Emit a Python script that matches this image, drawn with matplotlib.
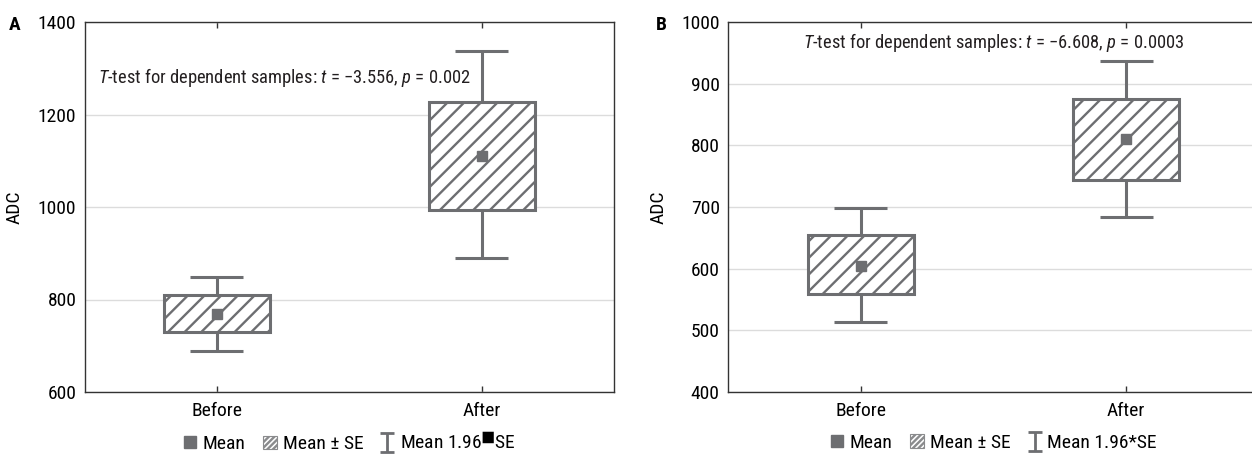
import numpy as np
import matplotlib
matplotlib.use("Agg")
import matplotlib.pyplot as plt
from matplotlib.lines import Line2D
from matplotlib.patches import Patch
from matplotlib import font_manager

available = {f.name for f in font_manager.fontManager.ttflist}
condensed = [n for n in ['Roboto Condensed', 'Open Sans Condensed',
                         'Liberation Sans Narrow', 'Noto Sans Condensed']
             if n in available]
if condensed:
    MAIN = condensed[0]
    FS = 14
    FS_TXT = 13.3
else:
    MAIN = 'Liberation Sans'
    FS = 12
    FS_TXT = 11.6

FONT = [MAIN, 'DejaVu Sans']
plt.rcParams['font.family'] = FONT
plt.rcParams['mathtext.fontset'] = 'custom'
plt.rcParams['mathtext.rm'] = MAIN
plt.rcParams['mathtext.it'] = MAIN + ':italic'
plt.rcParams['hatch.linewidth'] = 1.7

# ---------------- data ----------------
categories = ["Before", "After"]

# Panel A
a_mean = [769, 1110]
a_se_low = [730, 993]
a_se_high = [810, 1226]
a_ci_low = [689, 889]
a_ci_high = [849, 1337]
a_yticks = [600, 800, 1000, 1200, 1400]
a_text = r"$T$-test for dependent samples: $t$ = −3.556, $p$ = 0.002"
a_legend = ["Mean", "Mean ± SE", r"Mean 1.96$^{\blacksquare}$SE"]

# Panel B
b_mean = [605, 810]
b_se_low = [559, 744]
b_se_high = [654, 875]
b_ci_low = [513, 683]
b_ci_high = [698, 937]
b_yticks = [400, 500, 600, 700, 800, 900, 1000]
b_text = r"$T$-test for dependent samples: $t$ = −6.608, $p$ = 0.0003"
b_legend = ["Mean", "Mean ± SE", "Mean 1.96*SE"]

GRAY = "#6d6e71"

fig = plt.figure(figsize=(12.52, 4.55), dpi=100)
W, H = 1252, 455


def make_axes(left_px, right_px):
    return fig.add_axes([left_px / W, (H - 392) / H,
                         (right_px - left_px) / W, (392 - 22) / H])


def draw_panel(ax, mean, se_lo, se_hi, ci_lo, ci_hi, yticks, text, text_xy,
               text_ha, legend_labels, letter, letter_x):
    x = np.arange(len(categories))
    ax.set_xlim(-0.5, 1.5)
    ax.set_ylim(yticks[0], yticks[-1])
    ax.set_yticks(yticks)
    ax.set_xticks(x)
    ax.set_xticklabels(categories, fontsize=FS)
    ax.tick_params(axis='y', length=0, pad=6, labelsize=FS)
    ax.tick_params(axis='x', direction='in', top=True, length=4, width=1,
                   color='#333333', pad=7)
    for s in ax.spines.values():
        s.set_color('#333333')
        s.set_linewidth(1.0)
    ax.grid(axis='y', color='#dcdcdc', linewidth=1.0)
    ax.set_axisbelow(True)

    heights = np.array(se_hi) - np.array(se_lo)
    ax.bar(x, heights, bottom=se_lo, width=0.4, facecolor='white',
           edgecolor=GRAY, hatch='//', linewidth=2.2, zorder=3)
    ax.vlines(x, ci_lo, se_lo, color=GRAY, linewidth=2.2, zorder=2)
    ax.vlines(x, se_hi, ci_hi, color=GRAY, linewidth=2.2, zorder=2)
    ax.hlines(ci_lo, x - 0.1, x + 0.1, color=GRAY, linewidth=2.2, zorder=2)
    ax.hlines(ci_hi, x - 0.1, x + 0.1, color=GRAY, linewidth=2.2, zorder=2)
    ax.plot(x, mean, linestyle='none', marker='s', markersize=6.5,
            color=GRAY, zorder=4)

    ax.text(text_xy[0], text_xy[1], text, ha=text_ha, va='center',
            fontsize=FS_TXT, color='#231f20', zorder=5)
    ax.set_ylabel("ADC", fontsize=FS, labelpad=10)

    eb = ax.errorbar([np.nan], [np.nan], yerr=[1], fmt='none', ecolor=GRAY,
                     elinewidth=2.0, capsize=5, capthick=2.0)
    h_mean = Line2D([], [], linestyle='none', marker='s', markersize=8,
                    color=GRAY)
    h_se = Patch(facecolor='white', edgecolor='#8a8b8d', hatch='//////',
                 linewidth=0.8)
    ax.legend([h_mean, h_se, eb], legend_labels, loc='center',
              bbox_to_anchor=(0.5, -0.138), ncol=3, frameon=False,
              fontsize=FS, handlelength=0.7, handleheight=0.7,
              handletextpad=0.3, columnspacing=0.9, borderpad=0)
    fig.text(letter_x / W, (H - 25) / H, letter, fontsize=FS,
             fontweight='bold', ha='center', va='center')


axA = make_axes(84.6, 614)
draw_panel(axA, a_mean, a_se_low, a_se_high, a_ci_low, a_ci_high, a_yticks,
           a_text, (-0.45, 1281), 'left', a_legend, "A", 15)

axB = make_axes(728, 1259)
draw_panel(axB, b_mean, b_se_low, b_se_high, b_ci_low, b_ci_high, b_yticks,
           b_text, (0.5, 966), 'center', b_legend, "B", 661)

fig.savefig("out.png", dpi=100)
